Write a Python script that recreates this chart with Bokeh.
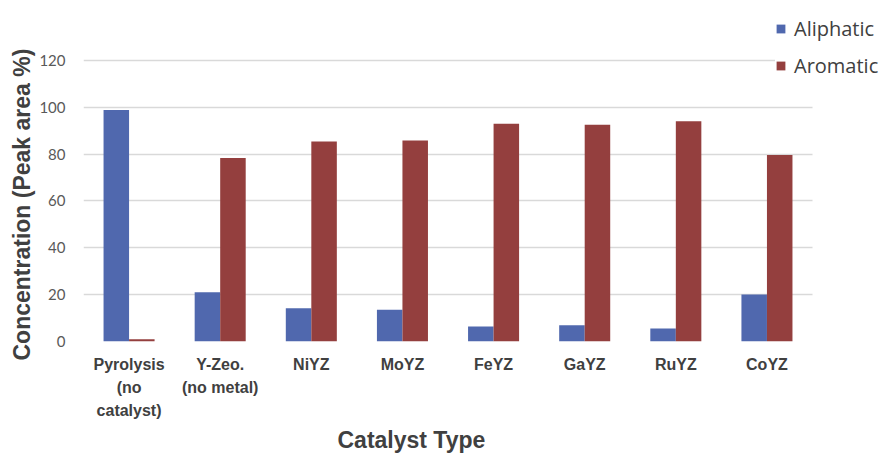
import numpy as np
from bokeh.plotting import figure
from bokeh.models import (ColumnDataSource, Range1d, Legend, LegendItem, Title,
                          FixedTicker, BoxAnnotation)
from bokeh.transform import dodge
from bokeh.embed import file_html
from bokeh.resources import INLINE

# Product distribution by catalyst
catalysts = ["Pyrolysis\n(no\ncatalyst)", "Y-Zeo.\n(no metal)", "NiYZ", "MoYZ",
             "FeYZ", "GaYZ", "RuYZ", "CoYZ"]
aliphatic = [98.8, 21.0, 14.2, 13.6, 6.4, 6.9, 5.5, 20.1]
aromatic = [1.0, 78.4, 85.4, 85.8, 93.0, 92.6, 94.0, 79.6]
y_ticks = [0, 20, 40, 60, 80, 100, 120]

BLUE = "#5068AE"
RED = "#943F3E"
NARROW = "'Liberation Sans Narrow', 'Arial Narrow', 'Liberation Sans', sans-serif"

idx = np.arange(len(catalysts))
BAR_W = 0.28
src = ColumnDataSource(dict(x=idx, ali=aliphatic, aro=aromatic))

# frame reaches the right edge and top so the legend can sit there
p = figure(width=882, height=456, output_backend="svg", toolbar_location=None,
           x_range=Range1d(-0.5, 8.268), y_range=Range1d(0, 145.6),
           min_border_left=83, min_border_right=0, min_border_top=0, min_border_bottom=115)
p.outline_line_color = None
p.background_fill_color = "white"

# the two series side by side around each category centre
r1 = p.vbar(x=dodge("x", -BAR_W / 2), top="ali", width=BAR_W, source=src,
            fill_color=BLUE, line_color=None)
r2 = p.vbar(x=dodge("x", BAR_W / 2), top="aro", width=BAR_W, source=src,
            fill_color=RED, line_color=None)

p.xgrid.grid_line_color = None
p.ygrid.grid_line_color = "#d9d9d9"
p.ygrid.grid_line_width = 1.5
p.yaxis.ticker = FixedTicker(ticks=y_ticks)
p.xaxis.ticker = FixedTicker(ticks=[int(i) for i in idx])
p.xaxis.major_label_overrides = {int(i): c for i, c in zip(idx, catalysts)}

for ax in (p.xaxis, p.yaxis):
    ax.axis_line_color = None
    ax.major_tick_line_color = None
    ax.minor_tick_line_color = None

p.yaxis.major_label_text_font = "Lato"
p.yaxis.major_label_text_font_size = "15px"
p.yaxis.major_label_text_color = "#595959"
p.yaxis.major_label_standoff = 12

p.xaxis.major_label_text_font = NARROW
p.xaxis.major_label_text_font_style = "bold"
p.xaxis.major_label_text_font_size = "16px"
p.xaxis.major_label_text_line_height = 1.38
p.xaxis.major_label_text_color = "#404040"
p.xaxis.major_label_standoff = 8

yt = Title(text="Concentration (Peak area %)", align="left", offset=-19,
           text_font=NARROW, text_font_style="bold", text_font_size="23px",
           text_color="#404040", standoff=4)
p.add_layout(yt, "left")

xt = Title(text="Catalyst Type", align="left", offset=254,
           text_font=NARROW, text_font_style="bold", text_font_size="23px",
           text_color="#404040", standoff=4)
p.add_layout(xt, "below")

# blank out the grid beyond the last category
p.add_layout(BoxAnnotation(left=7.5, fill_color="white", fill_alpha=1.0, line_color=None))

legend = Legend(items=[LegendItem(label="Aliphatic", renderers=[r1]),
                       LegendItem(label="Aromatic", renderers=[r2])],
                location=(692, 262), orientation="vertical",
                glyph_width=11, glyph_height=11, label_standoff=8, spacing=10,
                label_text_font="Open Sans", label_text_font_size="20px",
                label_text_color="#404040", border_line_color=None,
                background_fill_color="white", background_fill_alpha=1.0,
                padding=12, margin=0)
p.add_layout(legend, "center")

open("out.html", "w").write(file_html(p, INLINE))
